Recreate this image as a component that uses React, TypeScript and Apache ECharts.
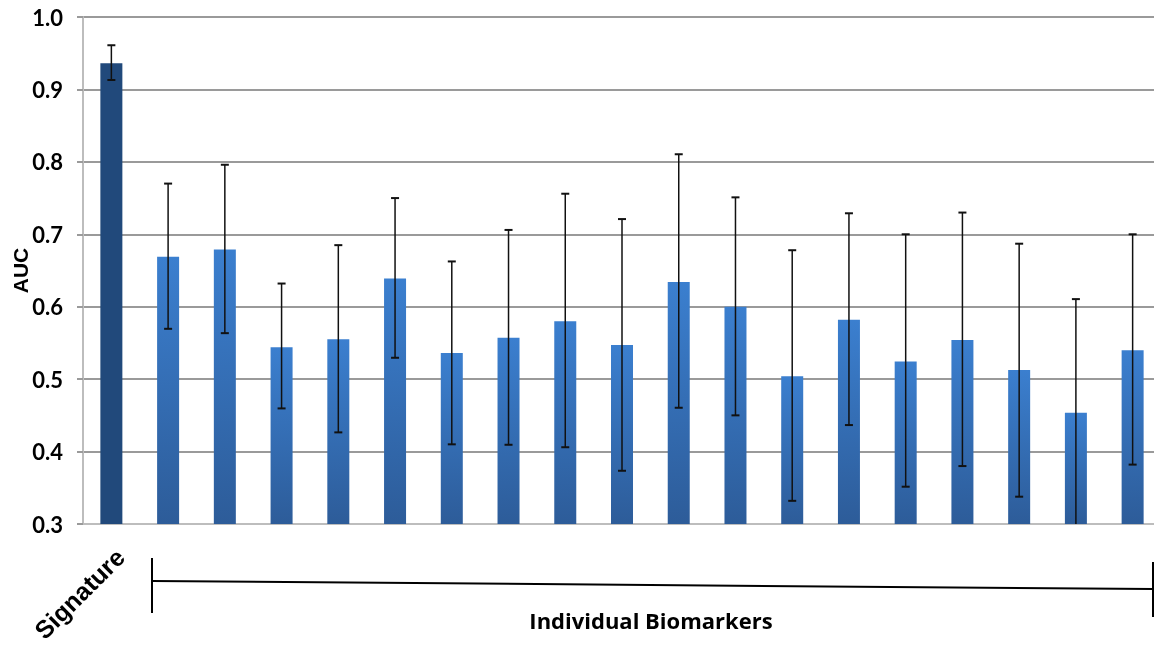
import React, { useEffect, useRef } from "react";
import * as echarts from "echarts";

const categories = [
  "Signature",
  "Biomarker 1", "Biomarker 2", "Biomarker 3", "Biomarker 4", "Biomarker 5", "Biomarker 6",
  "Biomarker 7", "Biomarker 8", "Biomarker 9", "Biomarker 10", "Biomarker 11", "Biomarker 12",
  "Biomarker 13", "Biomarker 14", "Biomarker 15", "Biomarker 16", "Biomarker 17", "Biomarker 18",
];
const aucValues = [
  0.936, 0.669, 0.679, 0.544, 0.555, 0.639, 0.536, 0.557, 0.58, 0.547,
  0.634, 0.6, 0.504, 0.582, 0.5245, 0.554, 0.5125, 0.4536, 0.54,
];
const upperCI = [
  0.961, 0.77, 0.796, 0.632, 0.685, 0.75, 0.6625, 0.706, 0.756, 0.721,
  0.8105, 0.751, 0.678, 0.729, 0.7, 0.73, 0.687, 0.6105, 0.7,
];
const lowerCI = [
  0.913, 0.5695, 0.5635, 0.4596, 0.4265, 0.5295, 0.41, 0.4094, 0.406, 0.3735,
  0.4605, 0.45, 0.332, 0.4366, 0.3515, 0.38, 0.3377, 0.28, 0.382,
];
const yTicks = { min: 0.3, max: 1.0, interval: 0.1 };
const groupLabel = "Individual Biomarkers";
const yName = "AUC";

export default function App() {
  const ref = useRef<HTMLDivElement>(null);
  useEffect(() => {
    if (!ref.current) return;
    const chart = echarts.init(ref.current, null, { renderer: "svg" });
    const blueGrad = new echarts.graphic.LinearGradient(0, 0, 0, 1, [
      { offset: 0, color: "#3b7fcf" },
      { offset: 1, color: "#2d5c99" },
    ]);
    const barData = aucValues.map((v, i) =>
      i === 0
        ? { value: v, itemStyle: { color: "#21497b" } }
        : { value: v, itemStyle: { color: blueGrad } }
    );
    const errData = aucValues.map((_, i) => [i, lowerCI[i], upperCI[i]]);
    chart.setOption({
      animation: false,
      grid: {
        left: 83, top: 17, width: 1078, height: 507,
        containLabel: false, outerBoundsMode: "none",
      },
      xAxis: {
        type: "category",
        data: categories,
        axisLine: { show: true, lineStyle: { color: "#bdbdbd", width: 2 } },
        axisTick: { show: false },
        axisLabel: {
          interval: (index: number) => index === 0,
          rotate: 45,
          margin: 20,
          verticalAlign: "top",
          fontFamily: "Liberation Sans",
          fontWeight: "bold",
          fontSize: 25,
          color: "#000",
        },
        splitLine: { show: false },
      },
      yAxis: {
        type: "value",
        min: yTicks.min,
        max: yTicks.max,
        interval: yTicks.interval,
        name: yName,
        nameLocation: "middle",
        nameGap: 52,
        nameMoveOverlap: false,
        nameTextStyle: { fontFamily: "Liberation Sans", fontWeight: "bold", fontSize: 21, color: "#000" },
        axisLine: { show: true, lineStyle: { color: "#bdbdbd", width: 2 } },
        axisTick: { show: true, length: 6, lineStyle: { color: "#9a9a9a", width: 2 } },
        axisLabel: {
          formatter: (v: number) => v.toFixed(1),
          fontFamily: "Lato",
          fontWeight: "bold",
          fontSize: 22,
          color: "#000",
          margin: 20,
        },
        splitLine: { show: true, lineStyle: { color: "#9a9a9a", width: 2 } },
      },
      series: [
        {
          type: "bar",
          data: barData,
          barWidth: 22,
          z: 2,
        },
        {
          type: "custom",
          data: errData,
          z: 5,
          clip: true,
          renderItem: (params: any, api: any) => {
            const x = api.value(0);
            const lo = api.coord([x, api.value(1)]);
            const hi = api.coord([x, api.value(2)]);
            const cap = 4;
            const style = { stroke: "#111", lineWidth: 1.5 };
            return {
              type: "group",
              children: [
                { type: "line", shape: { x1: hi[0], y1: hi[1], x2: lo[0], y2: lo[1] }, style },
                { type: "line", shape: { x1: hi[0] - cap, y1: hi[1], x2: hi[0] + cap, y2: hi[1] }, style: { stroke: "#111", lineWidth: 2 } },
                { type: "line", shape: { x1: lo[0] - cap, y1: lo[1], x2: lo[0] + cap, y2: lo[1] }, style: { stroke: "#111", lineWidth: 2 } },
              ],
            };
          },
        },
      ],
      graphic: [
        { type: "line", shape: { x1: 152, y1: 558, x2: 152, y2: 613 }, style: { stroke: "#000", lineWidth: 2 } },
        { type: "line", shape: { x1: 152, y1: 581, x2: 1153, y2: 589 }, style: { stroke: "#000", lineWidth: 2 } },
        { type: "line", shape: { x1: 1153, y1: 562, x2: 1153, y2: 617 }, style: { stroke: "#000", lineWidth: 2 } },
        {
          type: "text",
          x: 651,
          y: 620,
          style: {
            text: groupLabel,
            fontFamily: "Open Sans",
            fontWeight: "bold",
            fontSize: 22,
            fill: "#000",
            align: "center",
            verticalAlign: "middle",
          },
        },
      ],
    });
    return () => chart.dispose();
  }, []);
  return <div ref={ref} style={{ position: "fixed", left: 0, top: 0, width: 1154, height: 645 }} />;
}
